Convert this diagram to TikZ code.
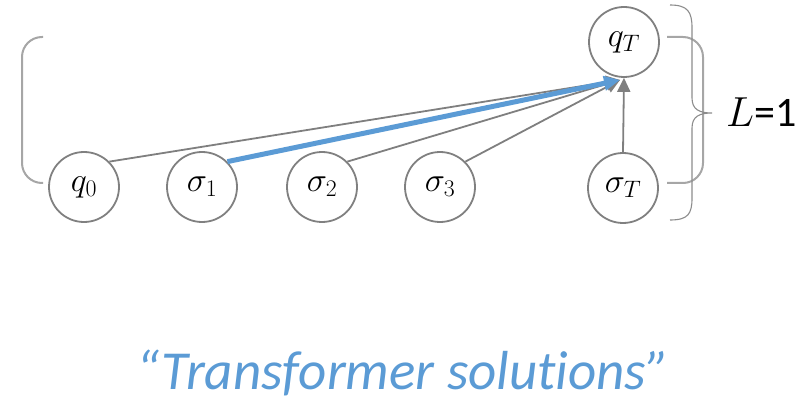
\RequirePackage{fix-cm}
\documentclass[tikz,border=0pt]{standalone}
\usepackage{fontspec}
\newfontfamily\calibri[Ligatures=NoCommon]{Carlito}
\usetikzlibrary{arrows.meta}
\definecolor{circgray}{HTML}{808080}
\definecolor{edgegray}{HTML}{7F7F7F}
\definecolor{brackgray}{HTML}{A6A6A6}
\definecolor{bracegray}{HTML}{8C8C8C}
\definecolor{hiblue}{HTML}{5B9BD5}
\begin{document}
\begin{tikzpicture}[x=1pt,y=-1pt,
  token/.style={circle, draw=circgray, line width=1.8pt, minimum size=70pt,
    inner sep=0pt, font=\fontsize{34}{40}\selectfont},
  attn/.style={draw=edgegray, line width=1.8pt,
    -{Triangle[length=14pt,width=13pt]}},
  hiattn/.style={draw=hiblue, line width=5pt,
    -{Triangle[length=16pt,width=14pt]}},
  bracket/.style={draw=brackgray, line width=2pt, rounded corners=20pt},
  thinbrace/.style={draw=bracegray, line width=1.1pt}]
\useasboundingbox (0,0) rectangle (805,406);

% layer of input tokens
\node[token] (q0) at (84,187) {$q_0$};
\node[token] (s1) at (202,187) {$\sigma_1$};
\node[token] (s2) at (322,187) {$\sigma_2$};
\node[token] (s3) at (440,187) {$\sigma_3$};
\node[token] (sT) at (623,188) {$\sigma_T$};
% output state
\node[token] (qT) at (624,42) {$q_T$};
\coordinate (tip) at (620,80);

% attention edges
\draw[attn] (q0.north east) -- (tip);
\draw[attn] (s2.north east) -- (tip);
\draw[attn] (s3.north east) -- (tip);
\draw[attn] (sT.north) -- (qT.south);
\draw[hiattn] (s1.north east) -- (tip);

% layer brackets
\draw[bracket] (43,37) -- (22,37) -- (22,183) -- (43,183);
\draw[bracket] (667,37) -- (703,37) -- (703,183) -- (667,183);
\draw[thinbrace] (670,5) .. controls (688,5) and (692,12) .. (692,28)
  -- (692,98) .. controls (692,110) and (700,113) .. (712,113)
  .. controls (700,113) and (692,116) .. (692,128)
  -- (692,198) .. controls (692,214) and (688,220) .. (670,220);

\node[anchor=west, inner sep=0pt, font=\fontsize{42}{50}\selectfont] (L) at (726,112)
  {$L$\calibri=1};

\node[text=hiblue, font=\calibri\itshape\fontsize{55}{66}\selectfont] (title)
  at (403,373) {“Transformer solutions”};
\end{tikzpicture}
\end{document}
